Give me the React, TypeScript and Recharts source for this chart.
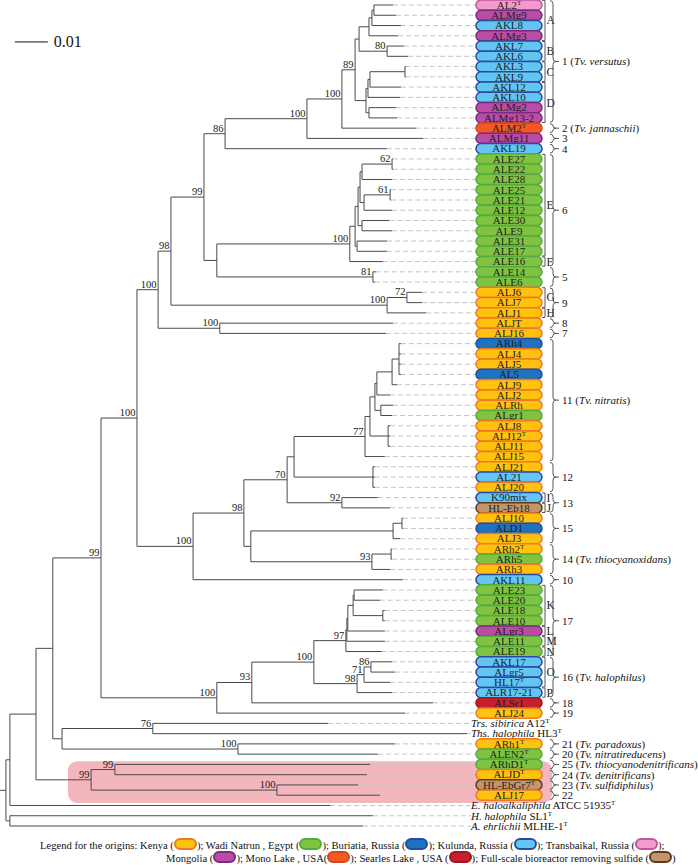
import React from "react";
import { ComposedChart, XAxis, YAxis, ReferenceLine, ReferenceArea, Scatter } from "recharts";

const W = 698;
const H = 865;
const SERIF = '"Liberation Serif", "Times New Roman", serif';
const X_DOMAIN: [number, number] = [-0.0018, 0.2097];
const Y_DOMAIN: [number, number] = [0.512, 84.8];
const ROW = H / (Y_DOMAIN[1] - Y_DOMAIN[0]);
const UNIT = W / (X_DOMAIN[1] - X_DOMAIN[0]);
const px2d = (p: number) => X_DOMAIN[0] + p / UNIT;

// leaves top to bottom; _italic_ and ^T (type strain) markup
const leafNames = [
  "AL2^T", "ALMg9", "AKL8", "ALMg3", "AKL7", "AKL6", "AKL3", "AKL9", "AKL12", "AKL10", "ALMg2", "ALMg13-2", "ALM2^T", "ALMg11", "AKL19",
  "ALE27", "ALE22", "ALE28", "ALE25", "ALE21", "ALE12", "ALE30", "ALE9", "ALE31", "ALE17", "ALE16", "ALE14", "ALE6",
  "ALJ6", "ALJ7", "ALJ1", "ALJT", "ALJ16",
  "ARh4", "ALJ4", "ALJ5", "AL5", "ALJ9", "ALJ2", "ALRh", "ALgr1", "ALJ8", "ALJ12^T", "ALJ11", "ALJ15",
  "ALJ21", "AL21", "ALJ20", "K90mix", "HL-Eb18", "ALJ10", "ALD1", "ALJ3", "ARh2^T", "ARh5", "ARh3", "AKL11",
  "ALE23", "ALE20", "ALE18", "ALE10", "ALgr3", "ALE11", "ALE19", "AKL17", "ALgr5", "HL17^T", "ALR17-21", "ALSr1", "ALJ24",
  "_Trs. sibirica_ A12^T", "_Ths. halophila_ HL3^T", "ARh1^T", "ALEN2^T", "ARhD1^T", "ALJD^T", "HL-EbGr7^T", "ALJ17",
  "_E. haloalkaliphila_ ATCC 51935^T", "_H. halophila_ SL1^T", "_A. ehrlichii_ MLHE-1^T",
];

const leafOrigins = [
  "T", "M", "KU", "M", "KU", "KU", "KU", "KU", "KU", "KU", "M", "M", "ML", "M", "KU",
  "W", "W", "W", "W", "W", "W", "W", "W", "W", "W", "W", "W", "W",
  "K", "K", "K", "K", "K",
  "B", "K", "K", "B", "K", "K", "K", "W", "K", "K", "K", "K",
  "K", "KU", "K", "KU", "R", "K", "B", "K", "K", "W", "K", "KU",
  "W", "W", "W", "W", "M", "W", "W", "KU", "KU", "KU", "KU", "S", "K",
  "", "", "K", "W", "W", "K", "R", "K",
  "", "", "",
];

// distance of each tip from the root (substitutions per site)
const leafTips = [
  0.1173, 0.1182, 0.1197, 0.1188, 0.1206, 0.1218, 0.1212, 0.1212, 0.1197, 0.1194, 0.1182, 0.1185, 0.1242, 0.1264, 0.1155,
  0.1173, 0.1173, 0.117, 0.1167, 0.1167, 0.117, 0.1161, 0.117, 0.1155, 0.1155, 0.1142, 0.1121, 0.1118,
  0.1261, 0.1261, 0.1273, 0.1173, 0.1152,
  0.1197, 0.1197, 0.1197, 0.1197, 0.1185, 0.1164, 0.1173, 0.117, 0.1164, 0.1164, 0.1164, 0.1148,
  0.1118, 0.1118, 0.1118, 0.1127, 0.1164, 0.1203, 0.1203, 0.1194, 0.117, 0.117, 0.1164, 0.1203,
  0.1142, 0.1133, 0.1148, 0.1148, 0.1148, 0.1148, 0.1139, 0.117, 0.1179, 0.1164, 0.117, 0.1294, 0.1209,
  0.0976, 0.1397, 0.1179, 0.1127, 0.1103, 0.1094, 0.1067, 0.1133,
  0.0982, 0.1112, 0.1082,
];

// internal nodes: id, depth from root, bootstrap, children (numbers = leaf rows)
const clades: [string, number, number | null, (string | number)[]][] = [
  ["root", 0, null, ["n10", "nHA"]],
  ["nHA", 0.0012, null, [80, 81]],
  ["n10", 0.0012, null, ["n36", 79]],
  ["n36", 0.0091, null, ["n53", "n91"]],
  ["n53", 0.0142, null, ["n101", "n62"]],
  ["n62", 0.017, null, ["n153", "n238"]],
  ["n153", 0.0445, 76, [71, 72]],
  ["n238", 0.0703, 100, [73, 74]],
  ["n91", 0.0258, 99, ["n115", "n277"]],
  ["n115", 0.033, 99, [75, 76]],
  ["n277", 0.0821, 100, [77, 78]],
  ["n101", 0.0288, 99, ["n137", "n217b"]],
  ["n137", 0.0397, 100, ["n158", "n193"]],
  ["n158", 0.0461, 100, ["n171", "n220"]],
  ["n171", 0.05, 98, ["n204", "n387"]],
  ["n204", 0.06, 99, ["n225", "n217"]],
  ["n225", 0.0664, 86, ["n307", 15]],
  ["n307", 0.0912, 100, ["n342", 14]],
  ["n342", 0.1018, 100, ["n355", 13]],
  ["n355", 0.1058, 89, ["nAB", "nCD"]],
  ["nAB", 0.107, null, ["nA3", "nB"]],
  ["nA3", 0.11, null, ["nA2", 4]],
  ["nA2", 0.1109, null, ["nA1", 3]],
  ["nA1", 0.1115, null, [1, 2]],
  ["nB", 0.1155, 80, [5, 6]],
  ["nCD", 0.1091, null, ["nC3", "nD"]],
  ["nC3", 0.1097, null, ["nC2", 10]],
  ["nC2", 0.1103, null, ["nC1", 9]],
  ["nC1", 0.1209, null, [7, 8]],
  ["nD", 0.11, null, [11, 12]],
  ["n217", 0.0639, null, ["nE", "n373"]],
  ["nE", 0.1042, 100, ["nE1", 26]],
  ["nE1", 0.1058, null, ["nE2", "nE6"]],
  ["nE2", 0.1067, null, ["nE3", "nE5"]],
  ["nE3", 0.1073, null, ["nE4a", "nE4b"]],
  ["nE4a", 0.1079, null, ["nE62", 18]],
  ["nE62", 0.117, 62, [16, 17]],
  ["nE4b", 0.1085, null, ["nE61", 21]],
  ["nE61", 0.1164, 61, [19, 20]],
  ["nE5", 0.1079, null, [22, 23]],
  ["nE6", 0.1064, null, [24, 25]],
  ["n373", 0.1112, 81, [27, 28]],
  ["n387", 0.1155, 100, ["n407", 31]],
  ["n407", 0.1215, 72, [29, 30]],
  ["n220", 0.0648, 100, [32, 33]],
  ["n193", 0.0567, 100, ["n244", 57]],
  ["n244", 0.0721, 98, ["n287", "n251"]],
  ["n287", 0.0852, 70, ["n294", "n342b"]],
  ["n294", 0.0873, null, ["n365", "n373b"]],
  ["n365", 0.1088, 77, ["n370", 45]],
  ["n370", 0.1103, null, ["n375", "n388"]],
  ["n375", 0.1118, null, ["n377", "n381"]],
  ["n377", 0.1124, null, ["n392", 39]],
  ["n392", 0.117, null, ["n399", 38]],
  ["n399", 0.1191, null, [34, 35, 36, 37]],
  ["n381", 0.1136, null, [40, 41]],
  ["n388", 0.1158, null, [42, 43, 44]],
  ["n373b", 0.1112, null, [46, 47, 48]],
  ["n342b", 0.1018, 92, [49, 50]],
  ["n251", 0.0742, null, ["n393", "n372"]],
  ["n393", 0.1173, null, ["n402", 53]],
  ["n402", 0.12, null, [51, 52]],
  ["n372", 0.1109, 93, ["n391", 56]],
  ["n391", 0.1167, null, [54, 55]],
  ["n217b", 0.0639, 100, ["n252", 70]],
  ["n252", 0.0745, 93, ["n314", 69]],
  ["n314", 0.0933, 100, ["n346", "n357"]],
  ["n346", 0.103, 97, ["n347", 64]],
  ["n347", 0.1033, null, ["n348", 63]],
  ["n348", 0.1036, null, ["n353", 62]],
  ["n353", 0.1052, null, ["n354", "n383"]],
  ["n354", 0.1055, null, [58, 59]],
  ["n383", 0.1142, null, [60, 61]],
  ["n357", 0.1064, 98, ["n364", 68]],
  ["n364", 0.1085, 71, ["n371", 67]],
  ["n371", 0.1106, 86, [65, 66]],
];

// sub-clusters (letters) and groups (numbers) on the right
const letterGroups: [string, number, number][] = [
  ["A", 1, 4], ["B", 5, 6], ["C", 7, 8], ["D", 9, 12], ["E", 16, 25], ["F", 26, 26], ["G", 29, 30], ["H", 31, 31],
  ["I", 49, 49], ["J", 50, 50], ["K", 58, 61], ["L", 62, 62], ["M", 63, 63], ["N", 64, 64], ["O", 65, 67], ["P", 68, 68],
];
const numberGroups: [string, number, number][] = [
  ["1 (_Tv. versutus_)", 1, 12], ["2 (_Tv. jannaschii_)", 13, 13], ["3", 14, 14], ["4", 15, 15], ["6", 16, 26], ["5", 27, 28],
  ["9", 29, 31], ["8", 32, 32], ["7", 33, 33], ["11 (_Tv. nitratis_)", 34, 45], ["12", 46, 48], ["13", 49, 50], ["15", 51, 53],
  ["14 (_Tv. thiocyanoxidans_)", 54, 56], ["10", 57, 57], ["17", 58, 64], ["16 (_Tv. halophilus_)", 65, 68], ["18", 69, 69],
  ["19", 70, 70], ["21 (_Tv. paradoxus_)", 73, 73], ["20 (_Tv. nitratireducens_)", 74, 74],
  ["25 (_Tv. thiocyanodenitrificans_)", 75, 75], ["24 (_Tv. denitrificans_)", 76, 76], ["23 (_Tv. sulfidiphilus_)", 77, 77], ["22", 78, 78],
];

const originCodes = ["K", "W", "B", "KU", "T", "M", "ML", "S", "R"];
const originNames = [
  "Kenya", "Wadi Natrun , Egypt", "Buriatia, Russia", "Kulunda, Russia", "Transbaikal, Russia",
  "Mongolia", "Mono Lake , USA", "Searles Lake , USA", "Full-scale bioreactor removing sulfide",
];
const originFills = ["#ffc20e", "#80c342", "#1f72c0", "#63c6f2", "#f29ccc", "#b84da3", "#f15a22", "#c71f2d", "#c4956a"];
const originStrokes = ["#f07822", "#52ad3a", "#1d4f9e", "#2a4a9e", "#c2579f", "#7a2a82", "#d4481c", "#9e1620", "#5e3b1c"];

const SCALE_BAR: [number, number, number] = [0.0027, 0.01, 4.6];
const HIGHLIGHT = { x1: 0.0188, x2: 0.1655, y1: 74.7, y2: 78.75 };

// ---- layout derived from the data ----
const cladeMap = new Map(clades.map((c) => [c[0], c]));
const yOf = (k: string | number): number => {
  if (typeof k === "number") return k;
  const ch = cladeMap.get(k)![3];
  return (yOf(ch[0]) + yOf(ch[ch.length - 1])) / 2;
};
const depthOf = (k: string | number) => (typeof k === "number" ? leafTips[k - 1] : cladeMap.get(k)![1]);

const PILL_X = px2d(509);
const PILL_LEFT = px2d(476);
const TEXT_X = px2d(471);
const BRACKET_X = px2d(545);
const BRACE_X = px2d(553);

const branches: { x1: number; y1: number; x2: number; y2: number }[] = [];
clades.forEach(([id, d, , ch]) => {
  branches.push({ x1: d, y1: yOf(ch[0]), x2: d, y2: yOf(ch[ch.length - 1]) });
  ch.forEach((c) => branches.push({ x1: d, y1: yOf(c), x2: depthOf(c), y2: yOf(c) }));
});
branches.push({ x1: X_DOMAIN[0], y1: yOf("root"), x2: 0, y2: yOf("root") });

const dashes = leafTips
  .map((t, i) => ({ x1: t, x2: leafOrigins[i] ? PILL_LEFT : TEXT_X, y: i + 1 }))
  .filter((s) => s.x2 - s.x1 > 0.0005);

const leafData = leafNames.map((n, i) => ({ x: leafOrigins[i] ? PILL_X : TEXT_X, y: i + 1, name: n, origin: leafOrigins[i] }));
const supportData = clades.filter((c) => c[2] !== null).map((c) => ({ x: c[1], y: yOf(c[0]), v: c[2] }));
const letterData = letterGroups.map(([t, a, b]) => ({ x: BRACKET_X, y: (a + b) / 2, a, b, t }));
const groupData = numberGroups.map(([t, a, b]) => ({ x: BRACE_X, y: (a + b) / 2, a, b, t }));

function rich(s: string, sup: number) {
  return s
    .split(/(_[^_]+_|\^T)/)
    .filter(Boolean)
    .map((p, i) =>
      p.startsWith("_") ? (
        <tspan key={i} fontStyle="italic">{p.slice(1, -1)}</tspan>
      ) : p === "^T" ? (
        <tspan key={i} fontSize={sup} dy={-4}>T</tspan>
      ) : (
        <tspan key={i}>{p}</tspan>
      )
    );
}

const Leaf = (p: any) => {
  const { cx, cy, payload } = p;
  if (!payload.origin) {
    return (
      <text x={cx} y={cy + 3.8} fontSize={11} fontFamily={SERIF} fill="#111">
        {rich(payload.name, 7)}
      </text>
    );
  }
  const k = originCodes.indexOf(payload.origin);
  return (
    <g>
      <rect x={cx - 33} y={cy - 5.1} width={66} height={10.2} rx={5.1} fill={originFills[k]} stroke={originStrokes[k]} strokeWidth={1.5} />
      <text x={cx} y={cy + 3.8} textAnchor="middle" fontSize={11} fontFamily={SERIF} fill="#1e1e1e">
        {rich(payload.name, 7)}
      </text>
    </g>
  );
};

const Support = (p: any) => (
  <text x={p.cx - 1.5} y={p.cy - 2} textAnchor="end" fontSize={10.5} fontFamily={SERIF} fill="#1a1a1a">
    {p.payload.v}
  </text>
);

const Letter = (p: any) => {
  const { cx, cy, payload } = p;
  const top = cy - (payload.y - payload.a + 0.45) * ROW;
  const bot = cy + (payload.b - payload.y + 0.45) * ROW;
  return (
    <g>
      <path d={`M${cx - 3},${top} H${cx} V${bot} H${cx - 3}`} fill="none" stroke="#555" strokeWidth={1} />
      <text x={cx + 1.5} y={cy + 4} fontSize={11.5} fontFamily={SERIF} fill="#222">{payload.t}</text>
    </g>
  );
};

const Brace = (p: any) => {
  const { cx, cy, payload } = p;
  const top = cy - (payload.y - payload.a + 0.42) * ROW;
  const bot = cy + (payload.b - payload.y + 0.42) * ROW;
  const r = Math.min(3, (bot - top) / 4);
  const d =
    `M${cx - 3},${top} Q${cx},${top} ${cx},${top + r} V${cy - r} Q${cx},${cy} ${cx + 3},${cy} ` +
    `Q${cx},${cy} ${cx},${cy + r} V${bot - r} Q${cx},${bot} ${cx - 3},${bot} M${cx + 3},${cy} H${cx + 6}`;
  return (
    <g>
      <path d={d} fill="none" stroke="#555" strokeWidth={1} />
      <text x={cx + 9} y={cy + 4} fontSize={11} fontFamily={SERIF} fill="#111">{rich(payload.t, 7)}</text>
    </g>
  );
};

const ScaleLabel = (p: any) => (
  <text x={p.cx + 6} y={p.cy + 5.5} fontSize={16} fontFamily={SERIF} fill="#111">0.01</text>
);

const PinkBox = (p: any) => (
  <rect x={p.x} y={p.y} width={p.width} height={p.height} rx={9} fill="#f4b6bd" />
);

const LegendPill = ({ code }: { code: string }) => {
  const k = originCodes.indexOf(code);
  return (
    <span
      style={{
        display: "inline-block",
        width: 19,
        height: 8,
        borderRadius: 6,
        background: originFills[k],
        border: `2px solid ${originStrokes[k]}`,
        verticalAlign: "-1px",
      }}
    />
  );
};

export default function App() {
  const legendItem = (i: number, last: boolean) => (
    <span key={i}>
      {originNames[i]}
      {i === 6 ? "(" : " ("}
      <LegendPill code={originCodes[i]} />
      {last ? ")" : "); "}
    </span>
  );
  const legendStyle = { position: "absolute" as const, fontSize: 10.6, lineHeight: "13px", whiteSpace: "nowrap" as const, color: "#111" };
  return (
    <div style={{ position: "absolute", left: 0, top: 0, width: W, height: H, background: "#fff", fontFamily: SERIF }}>
      <ComposedChart width={W} height={H} margin={{ top: 0, right: 0, bottom: 0, left: 0 }}>
        <XAxis type="number" dataKey="x" domain={X_DOMAIN} allowDataOverflow hide />
        <YAxis type="number" dataKey="y" domain={Y_DOMAIN} allowDataOverflow reversed hide />
        <ReferenceArea x1={HIGHLIGHT.x1} x2={HIGHLIGHT.x2} y1={HIGHLIGHT.y1} y2={HIGHLIGHT.y2} shape={PinkBox} ifOverflow="visible" />
        {dashes.map((s, i) => (
          <ReferenceLine key={`d${i}`} segment={[{ x: s.x1, y: s.y }, { x: s.x2, y: s.y }]} stroke="#c4c4c4" strokeDasharray="5 3" strokeWidth={1} />
        ))}
        {branches.map((s, i) => (
          <ReferenceLine key={`b${i}`} segment={[{ x: s.x1, y: s.y1 }, { x: s.x2, y: s.y2 }]} stroke="#4a4a4a" strokeWidth={1} ifOverflow="visible" />
        ))}
        <ReferenceLine
          segment={[{ x: SCALE_BAR[0], y: SCALE_BAR[2] }, { x: SCALE_BAR[0] + SCALE_BAR[1], y: SCALE_BAR[2] }]}
          stroke="#111"
          strokeWidth={1}
        />
        <Scatter data={[{ x: SCALE_BAR[0] + SCALE_BAR[1], y: SCALE_BAR[2] }]} shape={ScaleLabel} isAnimationActive={false} />
        <Scatter data={supportData} shape={Support} isAnimationActive={false} />
        <Scatter data={leafData} shape={Leaf} isAnimationActive={false} />
        <Scatter data={letterData} shape={Letter} isAnimationActive={false} />
        <Scatter data={groupData} shape={Brace} isAnimationActive={false} />
      </ComposedChart>
      <div style={{ ...legendStyle, left: 40, top: 838 }}>
        Legend for the origins: {[0, 1, 2, 3, 4].map((i) => legendItem(i, false))}
      </div>
      <div style={{ ...legendStyle, left: 166, top: 851 }}>
        {[5, 6, 7, 8].map((i) => legendItem(i, i === 8))}
      </div>
    </div>
  );
}
